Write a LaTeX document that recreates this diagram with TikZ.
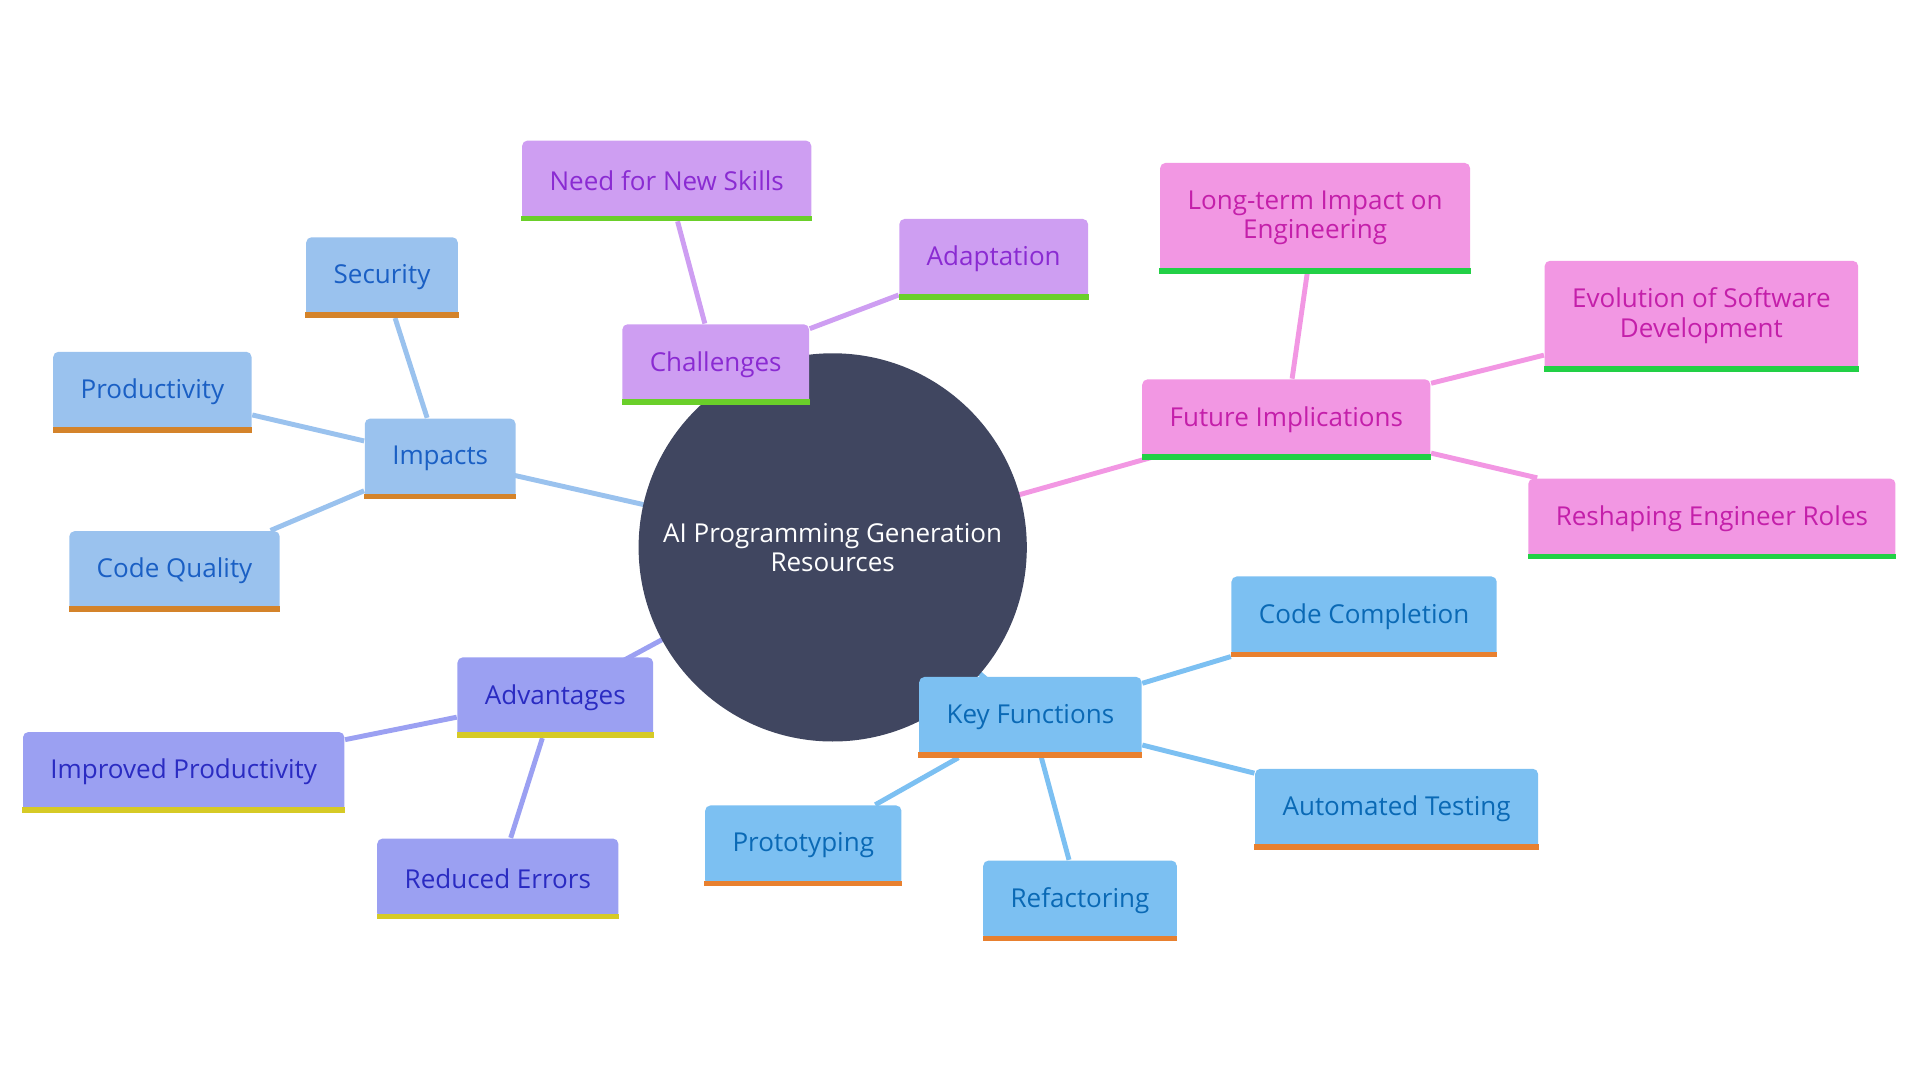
\documentclass[tikz,border=0pt]{standalone}
\usepackage{fontspec}
\setmainfont{Open Sans}
\usetikzlibrary{backgrounds}

\definecolor{corefill}{HTML}{404660}
\definecolor{impfill}{HTML}{9AC2EE}
\definecolor{imptext}{HTML}{1A5FC4}
\definecolor{impbar}{HTML}{D4832A}
\definecolor{chalfill}{HTML}{CE9EF2}
\definecolor{chaltext}{HTML}{8A2BD2}
\definecolor{chalbar}{HTML}{6ACF2A}
\definecolor{futfill}{HTML}{F297E3}
\definecolor{futtext}{HTML}{C41FAA}
\definecolor{futbar}{HTML}{22D046}
\definecolor{keyfill}{HTML}{7CC0F2}
\definecolor{keytext}{HTML}{0A69B5}
\definecolor{keybar}{HTML}{E8802F}
\definecolor{advfill}{HTML}{9BA0F2}
\definecolor{advtext}{HTML}{2A2BC2}
\definecolor{advbar}{HTML}{D6CA26}

\tikzset{
  card/.style={rectangle,rounded corners=1.5pt,inner xsep=7.8pt,inner ysep=0pt,
    minimum height=0.8cm,align=center,font=\fontsize{7.4}{8.4}\selectfont},
  tallcard/.style={card,minimum height=1.1cm},
  impcard/.style={card,fill=impfill,text=imptext},
  chalcard/.style={card,fill=chalfill,text=chaltext},
  futcard/.style={card,fill=futfill,text=futtext},
  keycard/.style={card,fill=keyfill,text=keytext},
  advcard/.style={card,fill=advfill,text=advtext},
  link/.style={line width=1.4pt},
}

\begin{document}
\begin{tikzpicture}[x=0.01cm,y=-0.01cm]
	\useasboundingbox (0,0) rectangle (1920,1080);

	\node[circle,fill=corefill,text=white,minimum size=3.88cm,inner sep=0pt,align=center,
	      font=\fontsize{7.4}{8.4}\selectfont] (core) at (832.7,547.4) {AI Programming Generation\\Resources};

	% impacts
	\node[impcard] (imp) at (440.2,458.6) {Impacts};
	\node[impcard] (sec) at (382.0,277.3) {Security};
	\node[impcard] (prod) at (152.4,391.8) {Productivity};
	\node[impcard] (qual) at (174.5,571.2) {Code Quality};

	% challenges
	\node[chalcard] (chal) at (715.7,364.3) {Challenges};
	\node[chalcard] (skill) at (666.7,180.6) {Need for New Skills};
	\node[chalcard] (adapt) at (993.7,259.0) {Adaptation};

	% future implications
	\node[futcard] (fut) at (1286.3,419.4) {Future Implications};
	\node[futcard,tallcard] (long) at (1315.1,218.0) {Long-term Impact on\\Engineering};
	\node[futcard,tallcard] (evol) at (1701.4,315.9) {Evolution of Software\\Development};
	\node[futcard] (resh) at (1711.9,518.6) {Reshaping Engineer Roles};

	% key functions
	\node[keycard] (key) at (1030.4,717.0) {Key Functions};
	\node[keycard] (compl) at (1364.1,616.5) {Code Completion};
	\node[keycard] (test) at (1396.6,808.8) {Automated Testing};
	\node[keycard] (refac) at (1080.0,900.6) {Refactoring};
	\node[keycard] (proto) at (803.3,845.5) {Prototyping};

	% advantages
	\node[advcard] (adv) at (555.3,697.4) {Advantages};
	\node[advcard] (improv) at (183.7,772.1) {Improved Productivity};
	\node[advcard] (err) at (497.8,878.6) {Reduced Errors};

	\foreach \n/\c in {imp/impbar,sec/impbar,prod/impbar,qual/impbar,
	                   chal/chalbar,skill/chalbar,adapt/chalbar,
	                   fut/futbar,long/futbar,evol/futbar,resh/futbar,
	                   key/keybar,compl/keybar,test/keybar,refac/keybar,proto/keybar,
	                   adv/advbar,improv/advbar,err/advbar}
		\fill[\c] (\n.south west) rectangle ([yshift=1.6pt]\n.south east);

	\begin{scope}[on background layer]
		\draw[link,impfill] (core.center) -- (imp.center);
		\draw[link,impfill] (imp) -- (sec);
		\draw[link,impfill] (imp) -- (prod);
		\draw[link,impfill] (imp) -- (qual);

		\draw[link,chalfill] (core.center) -- (chal.center);
		\draw[link,chalfill] (chal) -- (skill);
		\draw[link,chalfill] (chal) -- (adapt);

		\draw[link,futfill] (core.center) -- (fut.center);
		\draw[link,futfill] (fut) -- (long);
		\draw[link,futfill] (fut) -- (evol);
		\draw[link,futfill] (fut) -- (resh);

		\draw[link,keyfill] (core.center) -- (key.center);
		\draw[link,keyfill] (key) -- (compl);
		\draw[link,keyfill] (key) -- (test);
		\draw[link,keyfill] (key) -- (refac);
		\draw[link,keyfill] (key) -- (proto);

		\draw[link,advfill] (core.center) -- (adv.center);
		\draw[link,advfill] (adv) -- (improv);
		\draw[link,advfill] (adv) -- (err);
	\end{scope}
\end{tikzpicture}
\end{document}
